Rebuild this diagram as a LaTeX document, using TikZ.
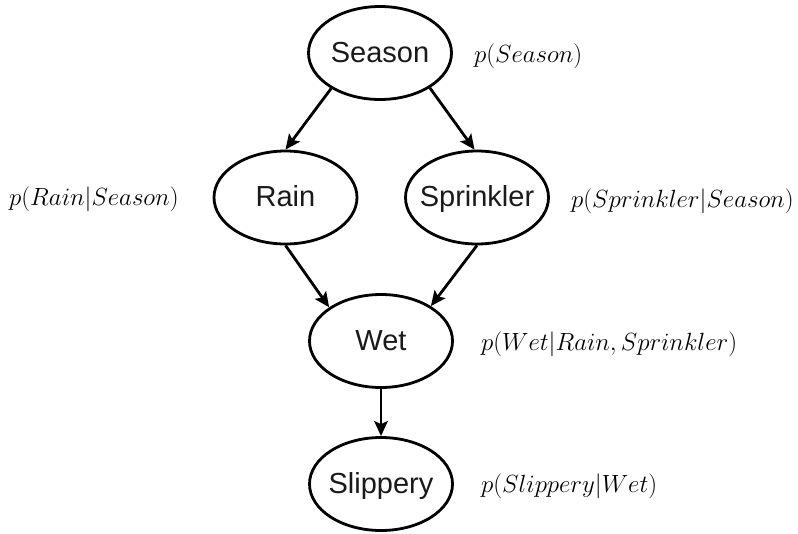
\documentclass[tikz,border=0pt]{standalone}
\usepackage[no-math]{fontspec}
\usepackage{amsmath}
\usepackage{tikz}
\usetikzlibrary{arrows.meta,shapes.geometric}
\newfontfamily\bnsans{Liberation Sans}
\definecolor{bnink} {HTML}{000000}
\definecolor{bntext}{HTML}{1A1A1A}
\tikzset{
  bnnode/.style={ellipse, draw=bnink, fill=white, line width=2.8pt,
                 minimum width=143pt, minimum height=93pt, inner sep=-12pt,
                 font=\bnsans\fontsize{29}{33}\selectfont, text=bntext,
                 text height=21pt, text depth=3pt},
  bnedge/.style={-{Stealth[length=15pt,width=13.5pt,inset=3pt]}, draw=bnink,
                 line width=2.8pt},
  bnlabel/.style={anchor=west, inner sep=0pt, font=\fontsize{25.3}{30}\selectfont},
}

\begin{document}
\begin{tikzpicture}[x=1pt,y=-1pt]
  \useasboundingbox (0,0) rectangle (798,533);
  % variables of the network
  \node[bnnode] (season)    at (380,53)      {Season};
  \node[bnnode] (rain)      at (285.5,197.5) {Rain};
  \node[bnnode] (sprinkler) at (477,197.5)   {Sprinkler};
  \node[bnnode] (wet)       at (381,341)     {Wet};
  \node[bnnode] (slippery)  at (381,484)     {Slippery};
  % dependencies
  \draw[bnedge] (season.-144)     -- (rain.north);
  \draw[bnedge] (season.-35)      -- (sprinkler.93);
  \draw[bnedge] (rain.south)      -- (wet.147);
  \draw[bnedge] (sprinkler.south) -- (wet.35);
  \draw[bnedge] (wet.south)       -- (slippery.north);
  % conditional distributions
  \node[bnlabel] (pseason)    at (474,56)  {$p(Season)$};
  \node[bnlabel] (prain)      at (9,199)   {$p(Rain|Season)$};
  \node[bnlabel] (psprinkler) at (571,201) {$p(Sprinkler|Season)$};
  \node[bnlabel] (pwet)       at (481,344) {$p(Wet|Rain,Sprinkler)$};
  \node[bnlabel] (pslippery)  at (481,486) {$p(Slippery|Wet)$};
\end{tikzpicture}
\end{document}
